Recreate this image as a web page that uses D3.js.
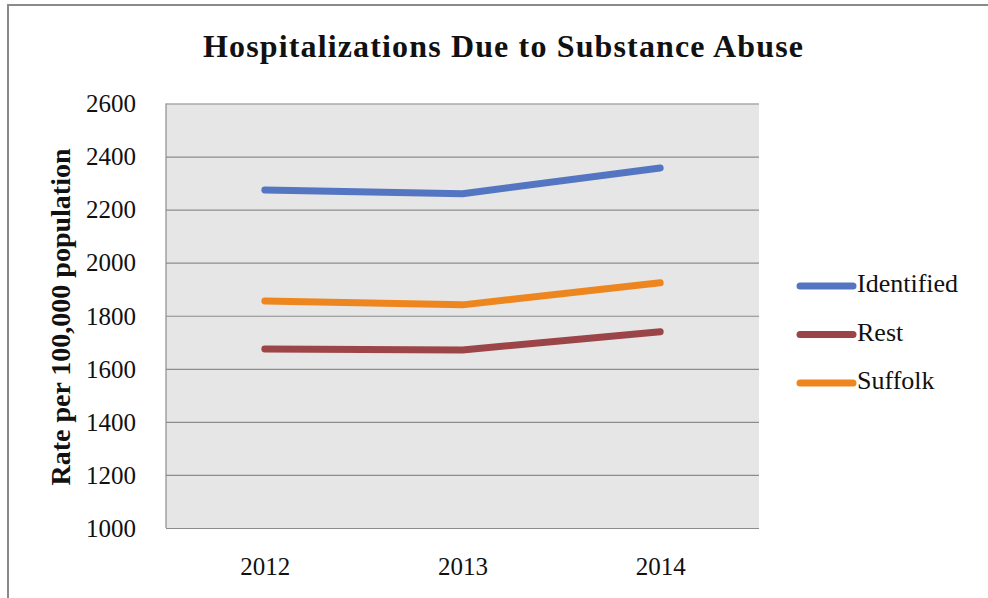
<!DOCTYPE html>
<html><head><meta charset="utf-8">
<script src="https://cdn.jsdelivr.net/npm/d3@7"></script>
<style>body{margin:0;background:#fff}svg{display:block}</style>
</head><body>
<svg id="c" width="988" height="598"></svg>
<script>
const years = ["2012","2013","2014"];
const identified = [2274, 2260, 2357];
const rest = [1675, 1671, 1740];
const suffolk = [1856, 1841, 1924];
const yTicks = [1000,1200,1400,1600,1800,2000,2200,2400,2600];
const seriesNames = ["Identified","Rest","Suffolk"];
const colors = ["#5476C2","#9C4548","#EE8620"];
const series = [identified, rest, suffolk];

const svg = d3.select("#c");
const font = "'Liberation Serif', 'DejaVu Serif', serif";
const L = 166, R = 759, T = 103.5, B = 528;

// outer frame
svg.append("path").attr("d","M8,598 L8,5 L988,5").attr("fill","none").attr("stroke","#8a8a8a").attr("stroke-width",2);

const x = d3.scalePoint().domain(years).range([L, R]).padding(0.5);
const y = d3.scaleLinear().domain([1000,2600]).range([B, T]);

svg.append("rect").attr("x",L).attr("y",T).attr("width",R-L).attr("height",B-T).attr("fill","#E6E6E6");

const grid = svg.append("g").attr("transform",`translate(${L},0)`)
  .call(d3.axisLeft(y).tickValues(yTicks).tickSize(-(R-L)).tickFormat(""));
grid.select(".domain").remove();
grid.selectAll("line").attr("stroke","#8c8c8c").attr("stroke-width",1.2);

svg.append("line").attr("x1",L).attr("x2",L).attr("y1",T).attr("y2",B).attr("stroke","#8c8c8c").attr("stroke-width",1.2);

const yl = svg.append("g").attr("transform",`translate(${L},0)`)
  .call(d3.axisLeft(y).tickValues(yTicks).tickSize(0).tickPadding(30).tickFormat(d3.format("d")));
yl.select(".domain").remove();
yl.selectAll("text").attr("font-family",font).attr("font-size",25).attr("fill","#111").attr("dy","0.33em");

const xl = svg.append("g").attr("transform",`translate(0,${B})`)
  .call(d3.axisBottom(x).tickSize(0).tickPadding(0));
xl.select(".domain").remove();
xl.selectAll("text").attr("font-family",font).attr("font-size",25).attr("fill","#111").attr("dy",null).attr("y",47);

const line = d3.line().x((d,i)=>x(years[i])).y(d=>y(d));
series.forEach((s,k)=>{
  svg.append("path").datum(s).attr("d",line).attr("fill","none")
    .attr("stroke",colors[k]).attr("stroke-width",7).attr("stroke-linecap","round").attr("stroke-linejoin","round");
});

svg.append("text").attr("x",503).attr("y",57).attr("text-anchor","middle")
  .attr("font-family",font).attr("font-weight","bold").attr("font-size",32).attr("fill","#111")
  .attr("textLength",600).attr("lengthAdjust","spacing")
  .text("Hospitalizations  Due to Substance Abuse");

svg.append("text").attr("transform","translate(70,317) rotate(-90)").attr("text-anchor","middle")
  .attr("font-family",font).attr("font-weight","bold").attr("font-size",28).attr("fill","#111")
  .text("Rate per 100,000 population");

const leg = svg.append("g");
seriesNames.forEach((n,k)=>{
  const yy = 286 + k*48.5;
  leg.append("line").attr("x1",800).attr("x2",853).attr("y1",yy).attr("y2",yy)
    .attr("stroke",colors[k]).attr("stroke-width",7).attr("stroke-linecap","round");
  leg.append("text").attr("x",857).attr("y",yy+6)
    .attr("font-family",font).attr("font-size",26).attr("fill","#111").text(n);
});
</script>
</body></html>
